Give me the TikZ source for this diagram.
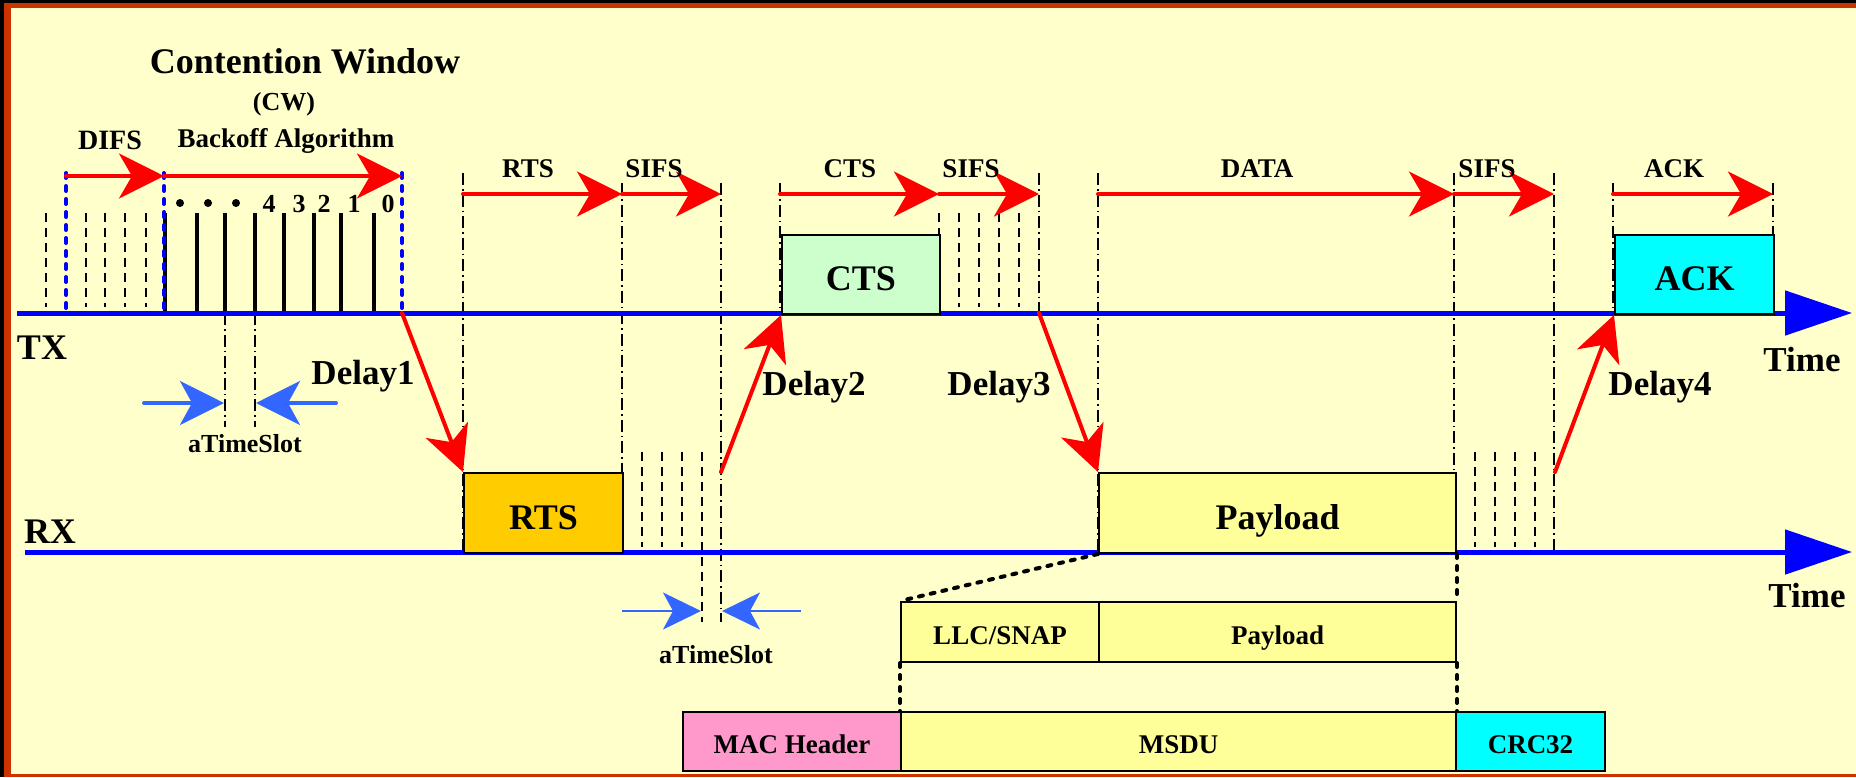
\documentclass[tikz,border=0pt]{standalone}
\usepackage{fontspec}
\setmainfont{Liberation Serif}
\usetikzlibrary{arrows.meta}
\definecolor{bgyellow}{HTML}{FFFFCC}
\definecolor{frameor}{HTML}{CC3300}
\definecolor{axisblue}{HTML}{0000FF}
\definecolor{arrred}{HTML}{FF0000}
\definecolor{slotblue}{HTML}{3366FF}
\definecolor{ctsgreen}{HTML}{CCFFCC}
\definecolor{rtsgold}{HTML}{FFCC00}
\definecolor{payyellow}{HTML}{FFFF99}
\definecolor{ackcyan}{HTML}{00FFFF}
\definecolor{macpink}{HTML}{FF99CC}
\begin{document}
\begin{tikzpicture}[x=1pt,y=-1pt,
  txt/.style={font=\fontsize{#1}{#1}\selectfont\bfseries, anchor=base, inner sep=0pt},
  redarrow/.style={draw=arrred, line width=4pt, line cap=round, -{Stealth[length=45pt,width=45pt,inset=13pt]}},
  axisarrow/.style={draw=axisblue, line width=5pt, -{Triangle[length=67pt,width=44pt]}},
  slotarrow/.style={draw=slotblue, line width=4pt, line cap=round, -{Stealth[length=44pt,width=44pt,inset=12pt]}},
  slotarrowthin/.style={draw=slotblue, line width=1.5pt, -{Stealth[length=38pt,width=37pt,inset=10pt]}},
  dashdot/.style={draw=black, line width=1.3pt, dash pattern=on 12pt off 4pt on 1.5pt off 4pt},
  slotdash/.style={draw=black, line width=1.5pt, dash pattern=on 9pt off 6pt},
  backoffline/.style={draw=black, line width=4.5pt},
  bluedot/.style={draw=axisblue, line width=4pt, line cap=round, dash pattern=on 5pt off 8pt},
  blackdot/.style={draw=black, line width=4pt, line cap=round, dash pattern=on 4pt off 8pt},
  framebox/.style={draw=black, line width=2pt, inner sep=0pt, anchor=north west},
  bigbox/.style={framebox, font=\fontsize{36}{36}\selectfont\bfseries, text height=32pt, text depth=0pt},
  smallbox/.style={framebox, font=\fontsize{27}{27}\selectfont\bfseries, text height=24pt, text depth=0pt},
]
% background and frame
\fill[black] (0,0) rectangle (1856,777);
\fill[frameor] (4,3) rectangle (1856,777);
\fill[bgyellow] (11,8) rectangle (1856,774);
\useasboundingbox (0,0) rectangle (1856,777);

% dash-dot guide lines
\foreach \x/\a/\b in {463/173/552, 622/183/552, 721/183/622, 780/183/313, 1039/173/313,
  1098/173/552, 1454/173/552, 1554/173/552, 1613/183/313, 1773/183/313, 225/313/427, 255/313/427}
  \draw[dashdot] (\x,\a) -- (\x,\b);
% slot dashed lines
\foreach \x in {46, 86, 105, 125, 146, 939, 959, 979, 999, 1019}
  \draw[slotdash] (\x,213) -- (\x,307);
\foreach \x in {642, 662, 682, 1475, 1495, 1515, 1535}
  \draw[slotdash] (\x,452) -- (\x,547);
\draw[slotdash] (702,452) -- (702,622);
% backoff slot lines
\foreach \x in {165, 197, 225, 255, 284, 314, 341, 374}
  \draw[backoffline] (\x,213) -- (\x,313);

% axes
\coordinate (txs) at (17,313);  \coordinate (txe) at (1852,313);
\coordinate (rxs) at (25,552);  \coordinate (rxe) at (1852,552);
\draw[axisarrow] (txs) -- (txe);
\draw[axisarrow] (rxs) -- (rxe);

% blue dotted bounds of DIFS / CW
\foreach \x in {66, 164, 402}
  \draw[bluedot] (\x,173) -- (\x,313);

% boxes
\node[bigbox, fill=rtsgold, minimum width=159pt, minimum height=80pt] (rts) at (463,472) {RTS};
\node[bigbox, fill=ctsgreen, minimum width=158pt, minimum height=79pt] (cts) at (781,234) {CTS};
\node[bigbox, fill=ackcyan, minimum width=159pt, minimum height=79pt] (ack) at (1614,234) {ACK};
\node[bigbox, fill=payyellow, minimum width=357pt, minimum height=80pt] (pay) at (1098,472) {Payload};
\node[smallbox, fill=payyellow, minimum width=198pt, minimum height=60pt] (llc) at (900,601) {LLC/SNAP};
\node[smallbox, fill=payyellow, minimum width=357pt, minimum height=60pt] (pay2) at (1098,601) {Payload};
\node[smallbox, fill=macpink, minimum width=218pt, minimum height=59pt] (mac) at (682,711) {MAC Header};
\node[smallbox, fill=payyellow, minimum width=555pt, minimum height=59pt] (msdu) at (900,711) {MSDU};
\node[smallbox, fill=ackcyan, minimum width=149pt, minimum height=59pt] (crc) at (1455,711) {CRC32};

% dotted expansion lines
\draw[blackdot] (pay.south west) -- (llc.north west);
\draw[blackdot] (llc.south west) -- (msdu.north west);
\draw[blackdot] (pay.south east) -- (pay2.north east);
\draw[blackdot] (pay2.south east) -- (msdu.north east);

% red duration arrows
\coordinate (d0) at (66,176);  \coordinate (d1) at (164,176); \coordinate (d2) at (402,176);
\draw[redarrow] (d0) -- (d1);
\draw[redarrow] (d1) -- (d2);
\foreach \p/\q in {463/622, 622/721, 780/939, 939/1039, 1098/1454, 1454/1554, 1613/1773}{
  \coordinate (s\p) at (\p,194); \coordinate (e\q) at (\q,194);
  \draw[redarrow] (s\p) -- (e\q);
}

% delay arrows
\coordinate (dl1s) at (402,313);
\coordinate (dl2s) at (721,472);
\coordinate (dl3s) at (1039,313);
\coordinate (dl4s) at (1555,472);
\draw[redarrow] (dl1s) -- (rts.north west);
\draw[redarrow] (dl2s) -- (cts.south west);
\draw[redarrow] (dl3s) -- (pay.north west);
\draw[redarrow] (dl4s) -- (ack.south west);

% aTimeSlot arrows
\coordinate (u1) at (144,403); \coordinate (u2) at (224,403);
\coordinate (u3) at (336,403); \coordinate (u4) at (256,403);
\draw[slotarrow] (u1) -- (u2);
\draw[slotarrow] (u3) -- (u4);
\coordinate (l1) at (622,611); \coordinate (l2) at (701,611);
\coordinate (l3) at (801,611); \coordinate (l4) at (722,611);
\draw[slotarrowthin] (l1) -- (l2);
\draw[slotarrowthin] (l3) -- (l4);

% backoff dots
\foreach \x in {180, 208, 236}
  \fill (\x,203) circle (4pt);

% texts
\node[txt=36] (cwt) at (305,73) {Contention Window};
\node[txt=26] (cwa) at (284,110) {(CW)};
\node[txt=27] (boa) at (286,147) {Backoff Algorithm};
\node[txt=28] (difs) at (110,149) {DIFS};
\foreach \x/\n in {269/4, 299/3, 324/2, 354/1, 388/0}
  \node[txt=26] (n\n) at (\x,212) {\n};
\node[txt=27] (lrts) at (528,177) {RTS};
\node[txt=27] (lsifs1) at (654,177) {SIFS};
\node[txt=27] (lcts) at (850,177) {CTS};
\node[txt=27] (lsifs2) at (971,177) {SIFS};
\node[txt=27] (ldata) at (1257,177) {DATA};
\node[txt=27] (lsifs3) at (1487,177) {SIFS};
\node[txt=27] (lack) at (1674,177) {ACK};
\node[txt=36] (tx) at (42,359) {TX};
\node[txt=36] (rx) at (50,543) {RX};
\node[txt=35] (dl1) at (363,384) {Delay1};
\node[txt=35] (dl2) at (814,395) {Delay2};
\node[txt=35] (dl3) at (999,395) {Delay3};
\node[txt=35] (dl4) at (1660,395) {Delay4};
\node[txt=26] (ts1) at (245,452) {aTimeSlot};
\node[txt=26] (ts2) at (716,663) {aTimeSlot};
\node[txt=35] (time1) at (1802,371) {Time};
\node[txt=35] (time2) at (1807,607) {Time};
\end{tikzpicture}
\end{document}
